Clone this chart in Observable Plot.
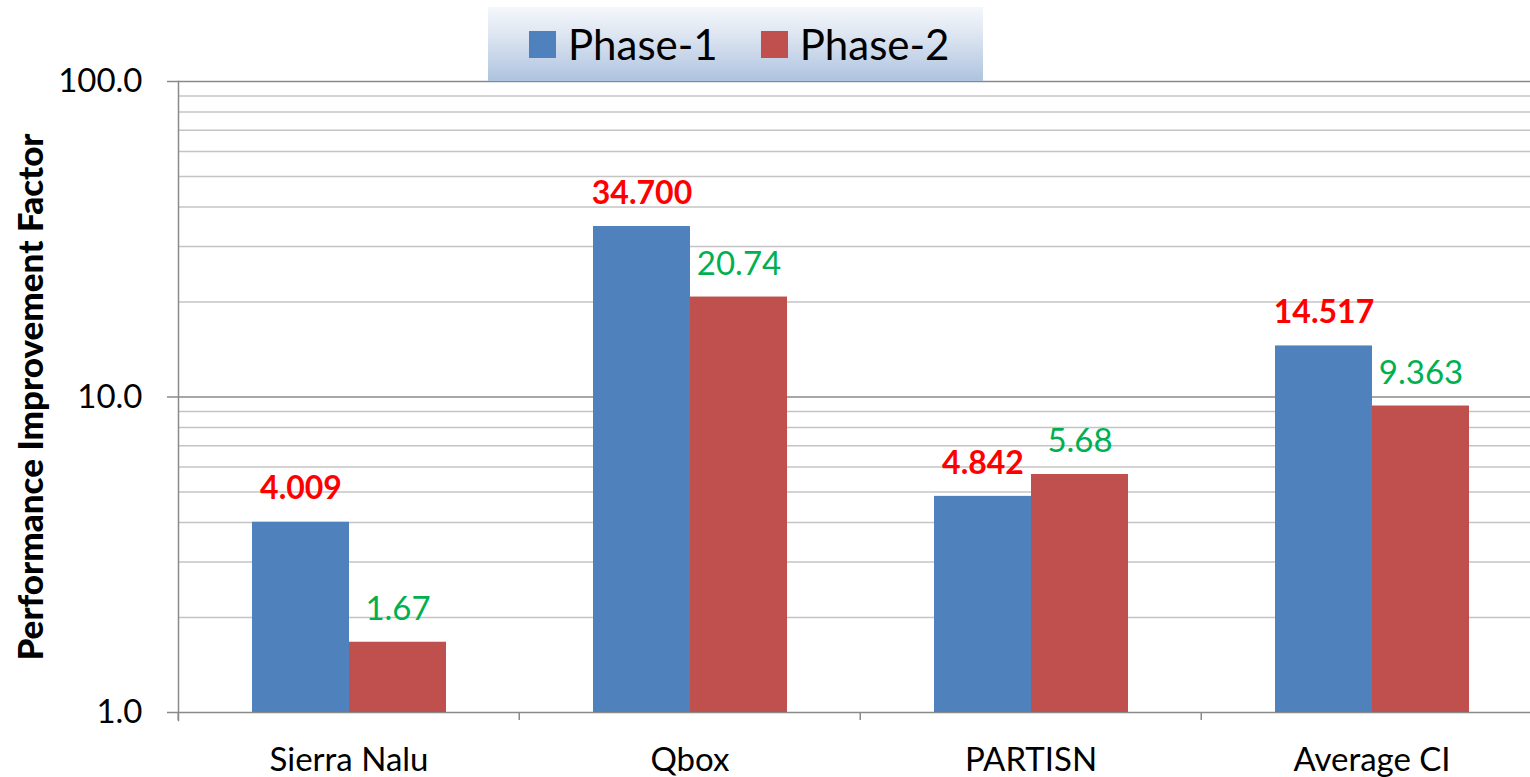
<!DOCTYPE html>
<html>
<head>
<meta charset="utf-8">
<script src="https://cdn.jsdelivr.net/npm/d3@7"></script>
<script src="https://cdn.jsdelivr.net/npm/@observablehq/plot@0.6"></script>
<style>
  html, body { margin: 0; padding: 0; background: #fff; overflow: hidden; }
  #wrap { position: relative; width: 1530px; height: 777px; overflow: hidden; font-family: Lato, sans-serif; }
  #chart { position: absolute; left: 0; top: 0; width: 1543px; height: 777px; }
  #chart svg { max-width: none !important; }
  #legend {
    position: absolute; left: 488px; top: 7px; width: 495px; height: 74px;
    background: linear-gradient(#f4f7fb 0%, #dfe7f2 35%, #aec3df 100%);
    display: flex; align-items: center; box-sizing: border-box; padding-left: 41px;
    font-family: Lato, sans-serif; font-size: 42px; color: #000;
  }
  #legend .sw { width: 27px; height: 27px; display: inline-block; margin-right: 12px; }
  #legend .item { display: flex; align-items: center; }
  #ytitle {
    position: absolute; left: 29px; top: 397px; transform: translate(-50%, -50%) rotate(-90deg);
    white-space: nowrap; font-family: Lato, sans-serif; font-weight: 900; font-size: 35px; color: #000;
  }
</style>
</head>
<body>
<div id="wrap">
  <div id="chart"></div>
  <div id="legend"></div>
  <div id="ytitle">Performance Improvement Factor</div>
</div>
<script>
const categories = ["Sierra Nalu", "Qbox", "PARTISN", "Average CI"];
const phases = ["Phase-1", "Phase-2"];
const phase1Values = [4.009, 34.700, 4.842, 14.517];
const phase2Values = [1.67, 20.74, 5.68, 9.363];
const phaseColors = ["#4F81BD", "#C0504D"];
const yTicks = [1, 10, 100];
const yMinor = [2, 3, 4, 5, 6, 7, 8, 9, 20, 30, 40, 50, 60, 70, 80, 90];

const rows = [];
categories.forEach((c, i) => {
  rows.push({cat: c, phase: phases[0], value: phase1Values[i], label: phase1Values[i].toFixed(3)});
  rows.push({cat: c, phase: phases[1], value: phase2Values[i], label: String(phase2Values[i])});
});

const W = 1543, H = 777, ML = 177, MR = 0, MT = 81, MB = 65;
const step = (W - ML - MR) / categories.length;

const plot = Plot.plot({
  width: W, height: H,
  marginLeft: ML, marginRight: MR, marginTop: MT, marginBottom: MB,
  style: {fontFamily: "Lato, sans-serif", background: "transparent", color: "#000", maxWidth: "none"},
  fx: {domain: categories, padding: 0},
  x: {domain: phases, paddingInner: 0, paddingOuter: 0.75, axis: null},
  y: {type: "log", domain: [1, 100]},
  color: {domain: phases, range: phaseColors},
  marks: [
    Plot.ruleY(yMinor, {stroke: "#c4c4c4", strokeWidth: 1.5}),
    Plot.ruleY(yTicks, {stroke: "#8a8a8a", strokeWidth: 1.5}),
    Plot.barY(rows, {fx: "cat", x: "phase", y1: 1, y2: "value", fill: "phase"}),
    Plot.text(rows.filter(d => d.phase === phases[0]), {fx: "cat", x: "phase", y: "value", text: "label", dy: -33, fill: "#FF0000", fontWeight: "bold", fontSize: 32}),
    Plot.text(rows.filter(d => d.phase === phases[1]), {fx: "cat", x: "phase", y: "value", text: "label", dy: -33, fill: "#00B050", fontSize: 33}),
    Plot.frame({anchor: "left", facet: "super", stroke: "#8a8a8a", strokeWidth: 1.5, insetBottom: -8}),
    Plot.axisY({ticks: yTicks, tickFormat: d => d.toFixed(1), tickSize: 11, tickPadding: 25, fontSize: 33, stroke: "#8a8a8a", strokeWidth: 1.5, label: null}),
    Plot.axisFx({anchor: "bottom", tickSize: 0, tickPadding: 35, fontSize: 33, label: null}),
    Plot.axisFx({anchor: "bottom", tickSize: 8, tickFormat: () => "", dx: -step / 2, stroke: "#8a8a8a", strokeWidth: 1.5, label: null})
  ]
});
document.getElementById("chart").appendChild(plot);

const legend = document.getElementById("legend");
phases.forEach((p, i) => {
  const item = document.createElement("div");
  item.className = "item";
  if (i > 0) item.style.marginLeft = "43px";
  const sw = document.createElement("span");
  sw.className = "sw";
  sw.style.background = phaseColors[i];
  const t = document.createElement("span");
  t.textContent = p;
  item.appendChild(sw);
  item.appendChild(t);
  legend.appendChild(item);
});
</script>
</body>
</html>
